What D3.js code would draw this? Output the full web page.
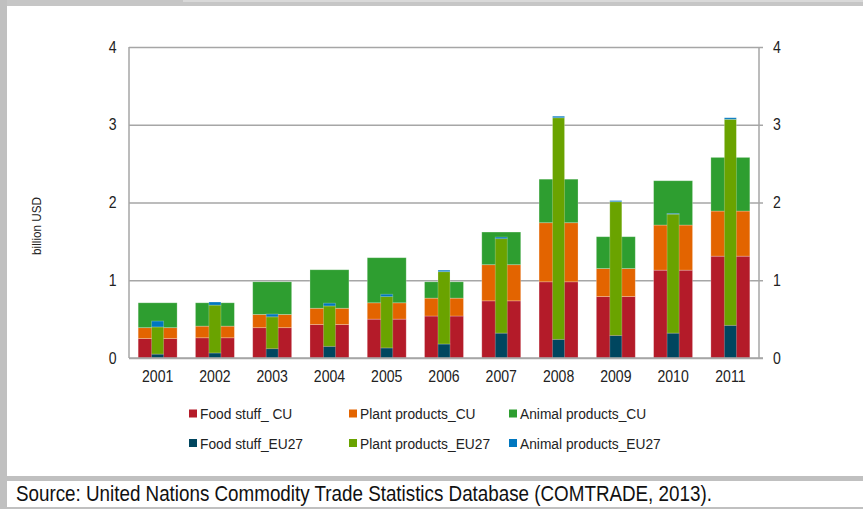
<!DOCTYPE html>
<html><head><meta charset="utf-8">
<script src="https://cdn.jsdelivr.net/npm/d3@7"></script>
<style>
html,body{margin:0;padding:0;background:#fff;}
svg{display:block;}
</style></head>
<body>
<svg id="c" width="863" height="509"></svg>
<script>
const years = ["2001","2002","2003","2004","2005","2006","2007","2008","2009","2010","2011"];
const foodCU   = [0.25,0.26,0.39,0.43,0.50,0.54,0.735,0.98,0.79,1.13,1.31];
const plantCU  = [0.14,0.15,0.17,0.21,0.21,0.23,0.465,0.76,0.36,0.58,0.58];
const animalCU = [0.32,0.30,0.42,0.495,0.58,0.21,0.42,0.56,0.41,0.57,0.69];
const foodEU   = [0.05,0.065,0.12,0.15,0.13,0.18,0.32,0.24,0.29,0.32,0.42];
const plantEU  = [0.35,0.615,0.41,0.52,0.66,0.93,1.215,2.85,1.72,1.53,2.65];
const animalEU = [0.075,0.04,0.035,0.035,0.03,0.02,0.02,0.02,0.015,0.01,0.02];
const seriesNames = ["Food stuff_ CU","Plant products_CU","Animal products_CU","Food stuff_EU27","Plant products_EU27","Animal products_EU27"];
const seriesColors = ["#b41b29","#e36400","#2e9e30","#00465f","#6aa300","#0077bf"];
const yTicks = [0,1,2,3,4];
const yTitle = "billion USD";
const sourceText = "Source: United Nations Commodity Trade Statistics Database (COMTRADE, 2013).";

const svg = d3.select("#c");
const FONT = "'Liberation Sans', Arial, sans-serif";

// frame
svg.append("rect").attr("x",0).attr("y",0).attr("width",863).attr("height",509).attr("fill","#fff");
svg.append("rect").attr("x",0).attr("y",0).attr("width",863).attr("height",6).attr("fill","#c6c6c6");
svg.append("rect").attr("x",183).attr("y",0).attr("width",680).attr("height",2).attr("fill","#d9d9d9");
svg.append("rect").attr("x",0).attr("y",0).attr("width",7).attr("height",509).attr("fill","#c0c0c0");
svg.append("rect").attr("x",0).attr("y",476).attr("width",863).attr("height",5).attr("fill","#c0c0c0");
svg.append("rect").attr("x",0).attr("y",507).attr("width",863).attr("height",2).attr("fill","#c0c0c0");

const x0 = 129, x1 = 759, yTop = 47, yBot = 358;
const x = d3.scaleBand().domain(years).range([x0,x1]).padding(0);
const y = d3.scaleLinear().domain([0,4]).range([yBot,yTop]);

// gridlines
const grid = svg.append("g").attr("transform",`translate(${x0},0)`)
  .call(d3.axisLeft(y).tickValues(yTicks).tickSize(-(x1-x0)).tickFormat(""));
grid.select(".domain").remove();
grid.selectAll("line").attr("stroke","#a6a6a6").attr("stroke-width",1.5);

// bars
const cuKeys = ["food","plant","animal"];
const cuData = years.map((yr,i)=>({year:yr,food:foodCU[i],plant:plantCU[i],animal:animalCU[i]}));
const euData = years.map((yr,i)=>({year:yr,food:foodEU[i],plant:plantEU[i],animal:animalEU[i]}));
const stack = d3.stack().keys(cuKeys);
const cuStack = stack(cuData), euStack = stack(euData);
const bw = x.bandwidth();
const cuW = bw*0.68, euW = bw*0.21;

function drawStack(st, w, colorOffset){
  svg.append("g").selectAll("g").data(st).join("g")
    .attr("fill",(d,i)=>seriesColors[i+colorOffset])
    .selectAll("rect").data(d=>d).join("rect")
    .attr("x",d=>x(d.data.year)+bw/2-w/2)
    .attr("width",w)
    .attr("y",d=>y(d[1]))
    .attr("height",d=>Math.max(0,y(d[0])-y(d[1])))
    .attr("stroke","rgba(255,255,255,0.3)").attr("stroke-width",0.8);
}
drawStack(cuStack,cuW,0);
drawStack(euStack,euW,3);

// left axis line
svg.append("line").attr("x1",x0).attr("x2",x0).attr("y1",yTop).attr("y2",yBot).attr("stroke","#a6a6a6").attr("stroke-width",1.5);
// baseline
svg.append("line").attr("x1",x0).attr("x2",x1+4).attr("y1",yBot).attr("y2",yBot).attr("stroke","#a6a6a6").attr("stroke-width",1.5);

const SX = "scale(0.88,1)";
// right axis
const ra = svg.append("g").attr("transform",`translate(${x1},0)`)
  .call(d3.axisRight(y).tickValues(yTicks).tickSize(4).tickPadding(10).tickFormat(d3.format("d")));
ra.select(".domain").attr("stroke","#a6a6a6").attr("stroke-width",1.5).attr("d",`M0,${yTop}V${yBot}`);
ra.selectAll("line").attr("stroke","#a6a6a6").attr("stroke-width",1.5);
ra.selectAll("text").attr("font-family",FONT).attr("font-size",16).attr("fill","#222").attr("x",16).attr("transform",SX);

// left labels
const la = svg.append("g").attr("transform",`translate(${x0},0)`)
  .call(d3.axisLeft(y).tickValues(yTicks).tickSize(0).tickPadding(13).tickFormat(d3.format("d")));
la.select(".domain").remove();
la.selectAll("text").attr("font-family",FONT).attr("font-size",16).attr("fill","#222").attr("x",-14).attr("transform",SX);

// x axis labels
const xa = svg.append("g").attr("transform",`translate(0,${yBot})`)
  .call(d3.axisBottom(x).tickSize(0).tickPadding(13));
xa.select(".domain").remove();
xa.selectAll("text").attr("font-family",FONT).attr("font-size",16).attr("fill","#222").attr("transform",SX);

// y title
svg.append("text").attr("transform","translate(41,226) rotate(-90) scale(0.9,1)")
  .attr("text-anchor","middle").attr("font-family",FONT).attr("font-size",13).attr("fill","#222").text(yTitle);

// legend
const legX = [189,349,509], legY = [413.5,443];
seriesNames.forEach((n,i)=>{
  const col = i%3, row = Math.floor(i/3);
  const g = svg.append("g").attr("transform",`translate(${legX[col]},${legY[row]})`);
  g.append("rect").attr("x",0).attr("y",-4).attr("width",8).attr("height",8).attr("fill",seriesColors[i]);
  g.append("text").attr("transform","translate(11,0) scale(0.9,1)").attr("dy","0.36em")
    .attr("font-family",FONT).attr("font-size",15.3).attr("fill","#222").text(n);
});

// source
svg.append("text").attr("transform","translate(16,501) scale(0.875,1)").attr("font-family",FONT).attr("font-size",21.5).attr("fill","#111").text(sourceText);
</script>
</body></html>
